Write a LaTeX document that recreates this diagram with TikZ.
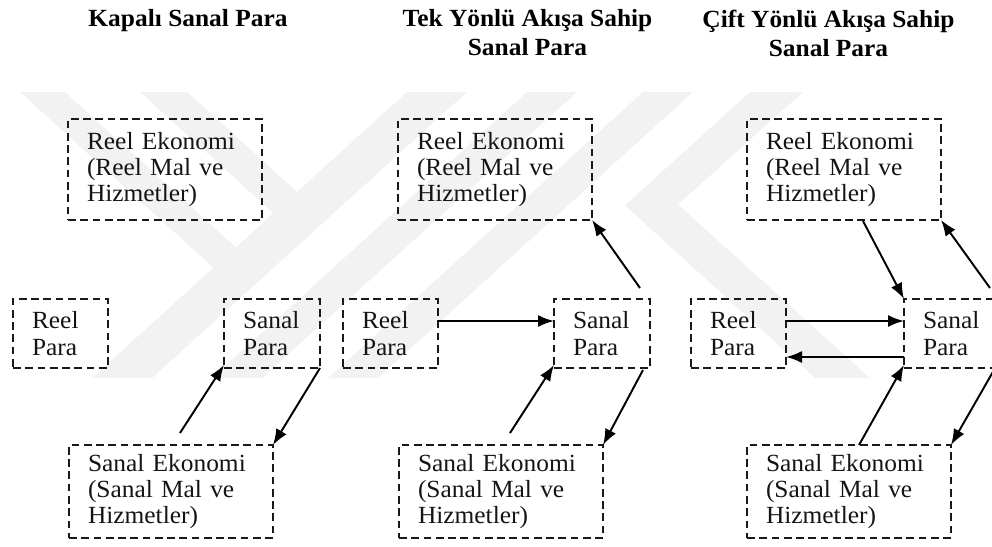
\documentclass[tikz,border=0pt]{standalone}
\usepackage{fontspec}
\setmainfont[FakeStretch=1.03]{Liberation Serif}
\usetikzlibrary{arrows.meta}
\begin{document}
\begin{tikzpicture}[x=0.75pt,y=-0.75pt,
  box/.style={draw=black!90, line width=1.7pt, dash pattern=on 5.8pt off 3.4pt,
    anchor=north west, align=left, inner xsep=14.25pt, inner ysep=0pt, outer sep=0pt,
    font=\fontsize{18.5}{19.8}\selectfont, text=black!92},
  rebox/.style={box, text width=117pt, minimum height=75.75pt},
  rpbox/.style={box, text width=42.75pt, minimum height=51.75pt},
  spbox/.style={box, text width=43.5pt, minimum height=51.75pt},
  sebox/.style={box, text width=124.5pt, minimum height=69.75pt},
  title/.style={font=\bfseries\fontsize{18.5}{21.75}\selectfont, align=center,
    inner sep=0pt, anchor=north},
  flow/.style={-{Latex[length=12pt,width=9pt]}, line width=1.45pt},
  mark band/.style={fill=black!5, draw=none}
]
\useasboundingbox (0,0) rectangle (992,546);
\clip (0,0) rectangle (992,546);

% faint background emblem made of slanted bands
\fill[mark band] (407,92) -- (467,92) -- (152,378) -- (92,378) -- cycle;
\fill[mark band] (527,92) -- (577,92) -- (262,378) -- (212,378) -- cycle;
\fill[mark band] (643,92) -- (693,92) -- (378,378) -- (328,378) -- cycle;
\fill[mark band] (20,92) -- (65,92) -- (266,274.7) -- (243.5,295) -- cycle;
\fill[mark band] (140,92) -- (187,92) -- (327,219) -- (303.5,240.6) -- cycle;
\fill[mark band] (750,92) -- (803,92) -- (678,204.5) -- (870,378) -- (815,378) -- (625,205.5) -- cycle;

% headings
\node[title] (t1) at (188,9.5) {Kapalı Sanal Para};
\node[title] (t2) at (527.5,9.5) {Tek Yönlü Akışa Sahip\\Sanal Para};
\node[title] (t3) at (828.5,9.5) {Çift Yönlü Akışa Sahip\\Sanal Para};

% closed virtual money
\node[rebox] (re1) at (68,119) {Reel Ekonomi\\(Reel Mal ve\\Hizmetler)};
\node[rpbox] (rp1) at (13,299) {Reel\\Para};
\node[spbox] (sp1) at (224,299) {Sanal\\Para};
\node[sebox] (se1) at (69,445) {Sanal Ekonomi\\(Sanal Mal ve\\Hizmetler)};

\draw[flow] ([shift={(9,-12)}]se1.north) -- ([shift={(0,-3)}]sp1.south west);
\draw[flow] (sp1.south east) -- (se1.north east);

% one-way flow
\node[rebox] (re2) at (398,119) {Reel Ekonomi\\(Reel Mal ve\\Hizmetler)};
\node[rpbox] (rp2) at (343,299) {Reel\\Para};
\node[spbox] (sp2) at (554,299) {Sanal\\Para};
\node[sebox] (se2) at (399,445) {Sanal Ekonomi\\(Sanal Mal ve\\Hizmetler)};

\draw[flow] ([shift={(0,-12.5)}]rp2.east) -- ([shift={(0,-12.5)}]sp2.west);
\draw[flow] ([shift={(9,-12)}]se2.north) -- ([shift={(0,-3)}]sp2.south west);
\draw[flow] ([shift={(-7,2)}]sp2.south east) -- (se2.north east);
\draw[flow] ([shift={(-10,-11)}]sp2.north east) -- (re2.south east);

% two-way flow
\node[rebox] (re3) at (747,119) {Reel Ekonomi\\(Reel Mal ve\\Hizmetler)};
\node[rpbox] (rp3) at (691,299) {Reel\\Para};
\node[spbox] (sp3) at (904,299) {Sanal\\Para};
\node[sebox] (se3) at (747,445) {Sanal Ekonomi\\(Sanal Mal ve\\Hizmetler)};

\draw[flow] ([shift={(0,-12.5)}]rp3.east) -- ([shift={(0,-12.5)}]sp3.west);
\draw[flow] ([shift={(0,23.5)}]sp3.west) -- ([shift={(0,23.5)}]rp3.east);
\draw[flow] ([shift={(10,0)}]se3.north) -- ([shift={(0,-3)}]sp3.south west);
\draw[flow] ([shift={(-6,2)}]sp3.south east) -- (se3.north east);
\draw[flow] ([shift={(19,1)}]re3.south) -- (sp3.north west);
\draw[flow] ([shift={(-10,-11)}]sp3.north east) -- (re3.south east);
\end{tikzpicture}
\end{document}
